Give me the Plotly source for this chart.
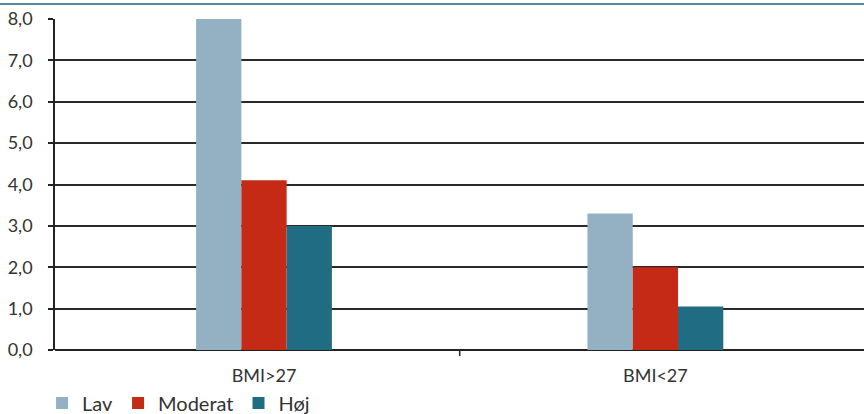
import plotly.graph_objects as go

categories = ["BMI>27", "BMI<27"]
series_names = ["Lav", "Moderat", "Høj"]
lav = [8.0, 3.3]
moderat = [4.1, 2.0]
hoej = [3.0, 1.05]
colors = ["#93b1c2", "#c42a16", "#206c82"]
y_ticks = [0, 1, 2, 3, 4, 5, 6, 7, 8]

fig = go.Figure()
for name, vals, col in zip(series_names, [lav, moderat, hoej], colors):
    fig.add_trace(go.Bar(name=name, x=categories, y=vals, marker=dict(color=col, line=dict(width=0))))

font_family = "Lato, 'Open Sans', sans-serif"
fig.update_layout(
    width=864, height=414,
    margin=dict(l=55, r=0, t=19, b=64, autoexpand=False),
    paper_bgcolor="white", plot_bgcolor="white",
    barmode="group", bargap=0.653, bargroupgap=0,
    separators=",.",
    font=dict(family=font_family, size=18, color="#333333"),
    showlegend=True,
    legend=dict(orientation="h", x=-0.016, xanchor="left", y=-0.16, yanchor="middle",
                font=dict(size=20, color="#333333"), itemwidth=30, tracegroupgap=0,
                bgcolor="rgba(0,0,0,0)"),
    xaxis=dict(range=[-0.534, 1.533], showgrid=False, showline=False, ticks="",
               tickfont=dict(size=18, color="#333333"), zeroline=False,
               automargin=False, ticklabelstandoff=13),
    yaxis=dict(range=[0, 8], tickvals=y_ticks, tickformat=".1f", showgrid=True,
               gridcolor="#2a2a2a", gridwidth=1.5, showline=True, linecolor="#222222",
               linewidth=1.5, ticks="outside", ticklen=5, tickcolor="#222222",
               tickwidth=1.5, zeroline=True, zerolinecolor="#222222", zerolinewidth=2,
               tickfont=dict(size=18, color="#333333"), ticklabelstandoff=12,
               automargin=False),
    shapes=[
        dict(type="line", xref="paper", yref="paper", x0=-0.07, x1=1.0, y0=1.045, y1=1.045,
             line=dict(color="#4f8e9c", width=2)),
        dict(type="line", xref="x", yref="paper", x0=0.5, x1=0.5, y0=0, y1=-0.018,
             line=dict(color="#222222", width=1.5)),
    ],
)

fig.write_html("out.html", config={"displayModeBar": False},
               post_script="document.body.style.margin='0';")
